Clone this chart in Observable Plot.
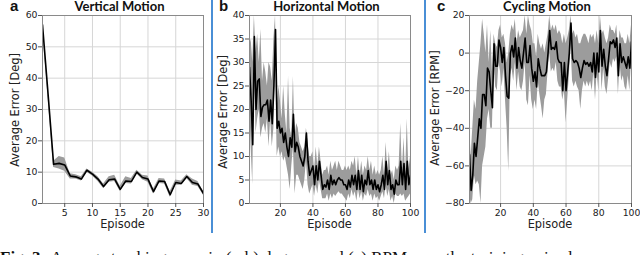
<!DOCTYPE html>
<html><head><meta charset="utf-8">
<script src="https://cdn.jsdelivr.net/npm/d3@7"></script>
<script src="https://cdn.jsdelivr.net/npm/@observablehq/plot@0.6"></script>
<style>
body{margin:0;background:#fff}
#wrap{position:relative;width:640px;height:255px;overflow:hidden;background:#fff}
.panel{position:absolute;top:0}
.title{position:absolute;top:-1px;font-family:Lato,"Open Sans",sans-serif;font-weight:bold;font-size:13px;line-height:15px;white-space:nowrap;transform:translateX(-50%);color:#111}
.letter{position:absolute;top:-3px;font-family:"Liberation Sans",Arial,sans-serif;font-weight:bold;font-size:15px;line-height:17px;color:#111}
.ylab{position:absolute;font-family:"DejaVu Sans",sans-serif;font-size:11.4px;white-space:nowrap;transform:translate(-50%,-50%) rotate(-90deg);color:#222}
.xlab{position:absolute;top:218px;font-family:"DejaVu Sans",sans-serif;font-size:11.4px;line-height:13px;white-space:nowrap;transform:translateX(-50%);color:#222}
.sep{position:absolute;top:0;width:2px;height:233px;background:#4a8fd6}
.cap{position:absolute;left:0;top:249px;font-family:"Liberation Serif",serif;font-size:17px;line-height:17px;white-space:nowrap;color:#111}
</style>
</head><body>
<div id="wrap"></div>
<script>
// ---------- Panel a: Vertical Motion ----------
const aTitle = "Vertical Motion";
const aYLabel = "Average Error [Deg]";
const aXTicks = [5, 10, 15, 20, 25, 30];
const aYTicks = [0, 10, 20, 30, 40, 50, 60];
const aMean = [57, 35, 12.5, 12.8, 12.3, 8.8, 8.5, 7.8, 10.6, 9.4, 7.8, 5.4, 7.6, 7.8, 4.5, 7.2, 7.0, 10.0, 8.3, 7.8, 3.8, 7.2, 7.0, 2.8, 6.7, 6.4, 8.6, 6.7, 6.2, 3.2];
const aHigh = [58, 36, 13.5, 15, 14.5, 9.5, 9.2, 8.5, 11, 10, 8.5, 6.2, 8.5, 9, 5.5, 8.5, 8, 10.6, 9, 8.8, 4.6, 8, 7.8, 3.8, 7.5, 7.2, 9.2, 7.8, 7, 3.8];
const aLow  = [56, 34, 11.5, 11, 10.3, 7.8, 7.8, 7.2, 10, 8.8, 7, 4.8, 6.8, 7, 3.8, 6.4, 6.2, 9.4, 7.6, 6.8, 3, 6.4, 6.2, 2, 5.8, 5.8, 8, 5.8, 5.4, 2.6];

// ---------- Panel b: Horizontal Motion ----------
const bTitle = "Horizontal Motion";
const bYLabel = "Average Error [Deg]";
const bXTicks = [20, 40, 60, 80, 100];
const bYTicks = [0, 5, 10, 15, 20, 25, 30, 35, 40];
const bMean = [29,22,12.5,35.5,20,26,26.5,18.5,20.5,21,
  21,22,17.5,22,17,25,37,16,17.5,15,
  16,13,15,12,10,14,12,19,11,13,
  12,10,9,8,10,15,9,6,7,8,
  4,8,5,9,6,3,4,3.5,5,3,
  6,4,5,4,5,5.5,5,5,4,4,
  3,5,3.5,6,4,6,3,7,3,6,
  2.5,5,4,7,4,5,3,5,3,4,
  2.5,4,6,3,9,4,7,3,4,2,
  5,4,4,9,4,8.5,3,9,4,6];
const bHigh = [33,35,30,40,32,36,30,37,26,30,
  28,25,30,29,26,35,40,20,25,22,
  18,25,19,15,27,16,14,27,14,17,
  16,13,12,11,12,16,13,10,10,11,
  7,12,8,12,9,6,7,7,8,6,
  9,7,8,9,7,9,8,7,7,8,
  7,8,7,9,8,10,6,10,6,9,
  6,8,7,10,7,9,6,8,6,7,
  6,7,10,6,13,7,11,6,7,5,
  8,7,8,17,7,14,6,18,7,10];
const bLow = [23,12,4,30,15,18,20,14,16,17,
  15,18,12,18,12,16,30,10,12,10,
  11,9,10,8,6,3,8,12,2,6,
  6,5,4,3,5,9,4,2,3,4,
  1.5,4,2,5,3,1,1,1,2,0.5,
  2,1,2,1.5,2,2.5,2,2,1.5,1,
  0.5,2,1,3,1.5,2.5,0.5,3,1,2.5,
  0.5,2,1.5,3,1.5,2,0.5,2,1,1.5,
  0.5,1.5,2.5,1,4,1.5,3,0.5,1.5,0,
  2,1.5,1.5,2,1.5,2,0.5,1,1.5,2];

// ---------- Panel c: Cycling Motion ----------
const cTitle = "Cycling Motion";
const cYLabel = "Average Error [RPM]";
const cXTicks = [20, 40, 60, 80, 100];
const cYTicks = [-80, -60, -40, -20, 0, 20];
const cMean = [-54,-73,-65,-48,-55,-45,-35,-40,-22,-22,
  -28,-8,-10,-20,-29,5,-7,-7,7,3,
  -5,3,-12,-23,-24,0,4,-2,8,-8,
  3,-4,-8,0,8,-5,-5,4,-8,-15,
  -10,-18,-3,-8,-12,-12,-12,-10,0,12,
  2,3,2,6,-3,-5,-5,-20,-5,-20,
  -10,0,16,-3,-5,-4,-5,-8,-13,-8,
  -4,-6,-5,-7,-5,-10,0,-13,0,-10,
  12,-7,2,-7,-12,-3,6,5,7,3,
  8,-12,5,-5,-2,-5,-8,-2,-8,6];
const cHigh = [-37,-55,-40,-25,-30,-15,-5,5,18,10,
  0,15,-5,12,-10,10,5,3,12,15,
  8,10,5,-5,0,10,15,12,18,5,
  12,8,10,12,20,10,20,15,12,5,
  5,-2,10,5,2,5,0,5,10,20,
  12,15,12,15,10,12,10,5,10,5,
  8,12,20,10,12,8,10,5,5,8,
  10,10,8,5,10,8,10,5,12,5,
  20,10,12,8,5,8,15,12,12,10,
  15,2,12,8,8,5,5,10,5,15];
const cLow = [-75,-80,-78,-65,-70,-68,-70,-80,-60,-55,
  -50,-35,-30,-40,-40,-5,-18,-20,-5,-10,
  -18,-8,-25,-40,-63,-12,-8,-15,-5,-20,
  -10,-18,-20,-15,-5,-25,-28,-12,-25,-30,
  -25,-30,-15,-22,-28,-35,-25,-22,-10,0,
  -10,-8,-10,-5,-15,-18,-18,-25,-20,-37,
  -25,-12,5,-15,-18,-15,-18,-20,-30,-20,
  -15,-18,-15,-18,-15,-20,-10,-25,-10,-20,
  0,-20,-8,-18,-22,-14,-5,-8,-3,-5,
  -2,-22,-5,-15,-12,-18,-20,-12,-20,-3];

const xLabel = "Episode";
const letters = ["a", "b", "c"];
const caption = "Fig. 3: Average tracking error in (a-b) degrees and (c) RPM over the training episodes";

const wrap = document.getElementById("wrap");

function makePanel(p) {
  const data = p.mean.map((m, i) => ({ep: i + 1, m, lo: p.low[i], hi: p.high[i]}));
  const chart = Plot.plot({
    width: p.width, height: 235,
    marginLeft: p.ml, marginRight: p.mr, marginTop: 15, marginBottom: 32,
    x: {domain: p.xd},
    y: {domain: p.yd},
    style: {fontFamily: "DejaVu Sans", fontSize: "9.3px", color: "#222", background: "transparent", overflow: "visible"},
    marks: [
      Plot.gridX(p.xt, {stroke: "#d6d6d6", strokeOpacity: 1}),
      Plot.gridY(p.yt, {stroke: "#d6d6d6", strokeOpacity: 1}),
      Plot.areaY(data, {x: "ep", y1: "lo", y2: "hi", fill: "#9c9c9c", clip: true}),
      Plot.lineY(data, {x: "ep", y: "m", stroke: "#000", strokeWidth: 1.6, clip: true}),
      Plot.frame({stroke: "#8a8a8a"}),
      Plot.axisX(p.xt, {tickSize: 4, tickPadding: 2, label: null, stroke: "#555"}),
      Plot.axisY(p.yt, {tickSize: 4, tickPadding: 1, label: null, stroke: "#555"})
    ]
  });
  chart.classList.add("panel");
  chart.style.left = p.left + "px";
  wrap.appendChild(chart);

  const fx0 = p.left + p.ml, fx1 = p.left + p.width - p.mr;
  const t = document.createElement("div");
  t.className = "title"; t.textContent = p.title;
  t.style.left = ((fx0 + fx1) / 2 - 3) + "px";
  wrap.appendChild(t);

  const l = document.createElement("div");
  l.className = "letter"; l.textContent = p.letter;
  l.style.left = p.letterX + "px";
  wrap.appendChild(l);

  const y = document.createElement("div");
  y.className = "ylab"; y.textContent = p.ylabel;
  y.style.left = p.ylabX + "px"; y.style.top = p.ylabY + "px";
  wrap.appendChild(y);

  const x = document.createElement("div");
  x.className = "xlab"; x.textContent = xLabel;
  x.style.left = ((fx0 + fx1) / 2) + "px";
  wrap.appendChild(x);
}

makePanel({left: 0, width: 210, ml: 42, mr: 7, xd: [1, 30], yd: [0, 60], xt: aXTicks, yt: aYTicks,
  mean: aMean, high: aHigh, low: aLow, title: aTitle, ylabel: aYLabel, letter: letters[0],
  letterX: 10, ylabX: 15, ylabY: 110});
makePanel({left: 214, width: 210, ml: 35, mr: 14, xd: [1, 100], yd: [0, 40], xt: bXTicks, yt: bYTicks,
  mean: bMean, high: bHigh, low: bLow, title: bTitle, ylabel: bYLabel, letter: letters[1],
  letterX: 219, ylabX: 223, ylabY: 112});
makePanel({left: 427, width: 213, ml: 42, mr: 9, xd: [1, 100], yd: [-80, 20], xt: cXTicks, yt: cYTicks,
  mean: cMean, high: cHigh, low: cLow, title: cTitle, ylabel: cYLabel, letter: letters[2],
  letterX: 437, ylabX: 435, ylabY: 108});

for (const sx of [211, 424]) {
  const s = document.createElement("div");
  s.className = "sep"; s.style.left = sx + "px";
  wrap.appendChild(s);
}

const cap = document.createElement("div");
cap.className = "cap";
const capParts = caption.split(": ");
const bold = document.createElement("b"); bold.textContent = capParts[0] + ": ";
cap.appendChild(bold);
cap.appendChild(document.createTextNode(capParts.slice(1).join(": ")));
wrap.appendChild(cap);
</script>
</body></html>
